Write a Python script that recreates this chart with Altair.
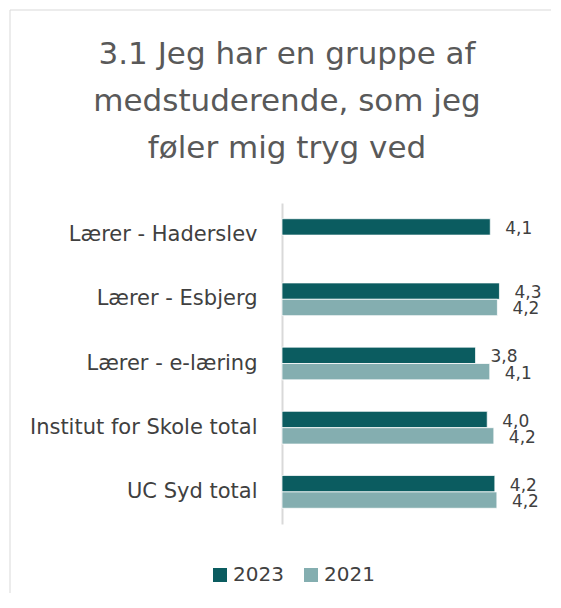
import altair as alt
import pandas as pd

categories = ["Lærer - Haderslev", "Lærer - Esbjerg", "Lærer - e-læring",
              "Institut for Skole total", "UC Syd total"]
years = ["2023", "2021"]
values_2023 = [4.10, 4.28, 3.81, 4.04, 4.19]
values_2021 = [None, 4.24, 4.09, 4.17, 4.23]
colors = ["#0b5c60", "#84aeb0"]
title_lines = ["3.1 Jeg har en gruppe af", "medstuderende, som jeg", "føler mig tryg ved"]

rows = []
for c, v23, v21 in zip(categories, values_2023, values_2021):
    if v23 is not None:
        rows.append({"category": c, "year": "2023", "value": v23})
    if v21 is not None:
        rows.append({"category": c, "year": "2021", "value": v21})
df = pd.DataFrame(rows)

FONT = "DejaVu Sans"
TXT = "#404040"

base = alt.Chart(df).transform_calculate(
    label="replace(format(datum.value, '.1f'), '.', ',')"
).encode(
    y=alt.Y("category:N", sort=categories,
            scale=alt.Scale(paddingInner=0.49, paddingOuter=0.245),
            axis=alt.Axis(title=None, domainColor="#d9d9d9", domainWidth=2,
                          ticks=False, labelFontSize=21, labelColor=TXT,
                          labelFont=FONT, labelPadding=25, labelLimit=300)),
    yOffset=alt.YOffset("year:N", sort=years,
                        scale=alt.Scale(domain=years, paddingInner=0, paddingOuter=0)),
)

bars = base.mark_bar(stroke="white", strokeWidth=0.75).encode(
    x=alt.X("value:Q", scale=alt.Scale(domain=[0, 5]), axis=None),
    color=alt.Color("year:N", sort=years,
                    scale=alt.Scale(domain=years, range=colors),
                    legend=alt.Legend(title=None, orient="none", direction="horizontal",
                                      legendX=-72, legendY=362,
                                      symbolType="square", symbolSize=196,
                                      symbolStrokeWidth=0, labelFontSize=20,
                                      labelColor=TXT, labelFont=FONT,
                                      labelOffset=3, columnPadding=17)),
)

labels = base.mark_text(align="left", baseline="middle", dx=15, dy=2,
                        fontSize=17, color=TXT, font=FONT).encode(
    x=alt.X("value:Q"),
    text="label:N",
)

frame_df = pd.DataFrame({"k": [0]})
frame_left = alt.Chart(frame_df).mark_rule(color="#d9d9d9", strokeWidth=1).encode(
    x=alt.value(-272), y=alt.value(-193), y2=alt.value(390))
frame_top = alt.Chart(frame_df).mark_rule(color="#d9d9d9", strokeWidth=1).encode(
    x=alt.value(-272), x2=alt.value(269), y=alt.value(-193))

chart = alt.layer(frame_left, frame_top, bars, labels).properties(
    width=254, height=321,
    background="white",
    padding={"left": 1, "top": 1, "right": 0, "bottom": 0},
    title=alt.TitleParams(text=title_lines, fontSize=31, lineHeight=47,
                          color="#595959", font=FONT, fontWeight="normal",
                          anchor="middle", frame="group", dx=-122, offset=-155),
).configure_view(stroke=None, strokeWidth=0)

chart.save("out.html", embed_options={"renderer": "svg", "actions": False})
